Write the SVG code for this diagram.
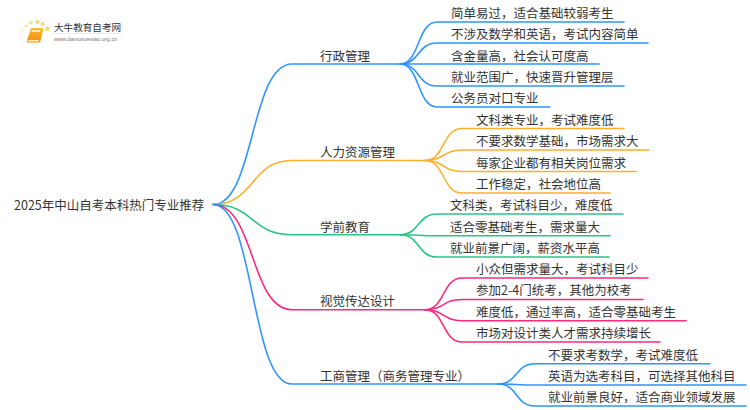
<svg xmlns="http://www.w3.org/2000/svg" width="750" height="410" viewBox="0 0 750 410">
<style>
text{font-family:"Noto Sans CJK SC","Liberation Sans",sans-serif;font-size:12.5px;fill:#333}
.c path{fill:none;stroke-width:1.6;stroke-linecap:round}
.b{stroke:#2e95ff}.o{stroke:#fdb02c}.g{stroke:#25c785}.p{stroke:#fb2a7f}
</style>
<defs><linearGradient id="bk" x1="0" y1="0" x2="0" y2="1"><stop offset="0" stop-color="#fbbd2e"/><stop offset="1" stop-color="#f28a10"/></linearGradient></defs>
<rect width="750" height="410" fill="#fff"/>
<g id="logo">
<circle cx="47.500" cy="28.700" r="2.300" fill="#fdd27a"/><circle cx="42.700" cy="24" r="2" fill="#fdd27a"/><circle cx="37.500" cy="22" r="2" fill="#fdd27a"/><circle cx="31" cy="22.700" r="1.800" fill="#fdd98a"/><circle cx="26" cy="26" r="1.600" fill="#fde3a8"/><circle cx="22" cy="30.500" r="1.300" fill="#feecc6"/><circle cx="21.500" cy="36" r="1.200" fill="#feecc6"/><circle cx="23.500" cy="42" r="1" fill="#feecc6"/>
<path d="M31 28h11.500q1 0 .7 1.500l-2.700 11.500q-.4 1.500-2 1.500h-10.500q-1.500 0-1.200-1.500z" fill="url(#bk)"/>
<path d="M32 30h8.500l-.5 2h-8.500zM28 40h11l-.4 1.400h-11z" fill="#fdeab8"/>
<text x="54" y="31" style="font-size:9.600px;fill:#333">大牛教育自考网</text>
<path d="M54 33.500h68" stroke="#ddd" stroke-width=".6"/>
<text x="54" y="41" style="font-size:5.600px;fill:#777;font-family:'Liberation Sans',sans-serif">www.daniuxuexiao.org.cn</text>
</g>
<g id="connectors" class="c">
<path class="b" d="M213 204.500C255 204.500 250 64 292 64H400"/>
<path class="o" d="M213 204.500C255 204.500 250 160.500 292 160.500H425"/>
<path class="g" d="M213 204.500C255 204.500 250 234.700 292 234.700H400"/>
<path class="p" d="M213 204.500C255 204.500 250 309.700 292 309.700H425"/>
<path class="b" d="M213 204.500C255 204.500 250 384 292 384H498"/>
<path class="b" d="M400 64C420 64 417 22 437 22H624"/>
<path class="b" d="M400 64C420 64 417 43 437 43H648"/>
<path class="b" d="M400 64H599"/>
<path class="b" d="M400 64C420 64 417 86 437 86H624"/>
<path class="b" d="M400 64C420 64 417 107 437 107H550"/>
<path class="o" d="M425 160.500C445 160.500 442 128.500 462 128.500H624"/>
<path class="o" d="M425 160.500C445 160.500 442 150 462 150H649"/>
<path class="o" d="M425 160.500C445 160.500 442 171.500 462 171.500H636"/>
<path class="o" d="M425 160.500C445 160.500 442 193 462 193H610"/>
<path class="g" d="M400 234.700C420 234.700 417 214 437 214H623"/>
<path class="g" d="M400 234.700C420 234.700 417 235.700 437 235.700H610"/>
<path class="g" d="M400 234.700C420 234.700 417 257 437 257H609"/>
<path class="p" d="M425 309.700C445 309.700 442 278 462 278H648"/>
<path class="p" d="M425 309.700C445 309.700 442 299.500 462 299.500H643"/>
<path class="p" d="M425 309.700C445 309.700 442 320.700 462 320.700H686"/>
<path class="p" d="M425 309.700C445 309.700 442 342 462 342H660"/>
<path class="b" d="M498 384C518 384 515 363.700 535 363.700H710"/>
<path class="b" d="M498 384C518 384 515 385 535 385H746"/>
<path class="b" d="M498 384C518 384 515 406 535 406H746"/>
</g>
<g id="root"><text x="14" y="210">2025年中山自考本科热门专业推荐</text></g>
<g id="n1"><text x="320" y="61">行政管理</text></g>
<g id="n1-1"><text x="451" y="18">简单易过，适合基础较弱考生</text></g>
<g id="n1-2"><text x="451" y="39">不涉及数学和英语，考试内容简单</text></g>
<g id="n1-3"><text x="451" y="61">含金量高，社会认可度高</text></g>
<g id="n1-4"><text x="451" y="82">就业范围广，快速晋升管理层</text></g>
<g id="n1-5"><text x="451" y="103">公务员对口专业</text></g>
<g id="n2"><text x="320" y="157">人力资源管理</text></g>
<g id="n2-1"><text x="476" y="125">文科类专业，考试难度低</text></g>
<g id="n2-2"><text x="476" y="146">不要求数学基础，市场需求大</text></g>
<g id="n2-3"><text x="476" y="168">每家企业都有相关岗位需求</text></g>
<g id="n2-4"><text x="476" y="189">工作稳定，社会地位高</text></g>
<g id="n3"><text x="320" y="232">学前教育</text></g>
<g id="n3-1"><text x="450" y="210">文科类，考试科目少，难度低</text></g>
<g id="n3-2"><text x="450" y="232">适合零基础考生，需求量大</text></g>
<g id="n3-3"><text x="450" y="253">就业前景广阔，薪资水平高</text></g>
<g id="n4"><text x="320" y="306">视觉传达设计</text></g>
<g id="n4-1"><text x="476" y="274">小众但需求量大，考试科目少</text></g>
<g id="n4-2"><text x="476" y="295">参加2-4门统考，其他为校考</text></g>
<g id="n4-3"><text x="476" y="317">难度低，通过率高，适合零基础考生</text></g>
<g id="n4-4"><text x="476" y="338">市场对设计类人才需求持续增长</text></g>
<g id="n5"><text x="320" y="381">工商管理（商务管理专业）</text></g>
<g id="n5-1"><text x="548" y="360">不要求考数学，考试难度低</text></g>
<g id="n5-2"><text x="548" y="381">英语为选考科目，可选择其他科目</text></g>
<g id="n5-3"><text x="548" y="402">就业前景良好，适合商业领域发展</text></g>
</svg>
